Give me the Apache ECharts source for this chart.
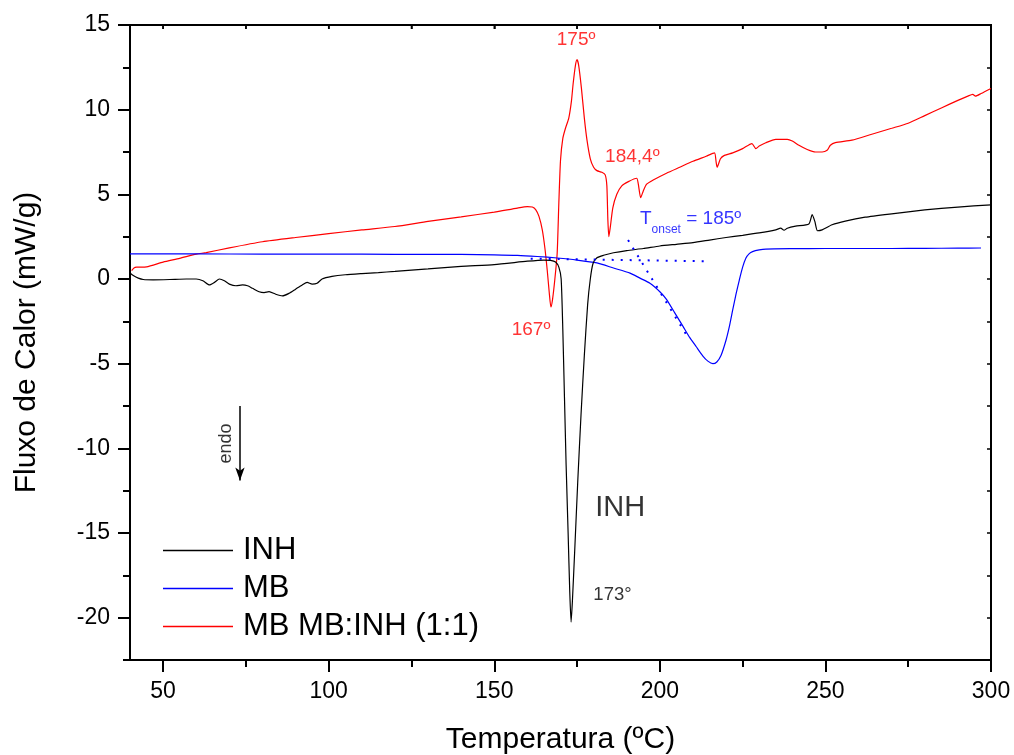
<!DOCTYPE html>
<html>
<head>
<meta charset="utf-8">
<script src="https://cdn.jsdelivr.net/npm/echarts@6/dist/echarts.min.js"></script>
<style>
html,body{margin:0;padding:0;background:#fff;}
#chart{width:1014px;height:755px;}
</style>
</head>
<body>
<div id="chart"></div>
<script>
// ---- data (Temperatura ºC, Fluxo de Calor mW/g) ----
const inhCurve = [[40,0.35],[41,0.2],[42.5,0.05],[44,-0.03],[47,-0.05],[52,-0.03],[57,0],[60,0],[62,-0.1],[64,-0.35],[65.5,-0.2],[67,0],[68.5,-0.1],[70,-0.3],[72,-0.4],[74,-0.35],[75.5,-0.4],[77,-0.55],[79,-0.75],[80.5,-0.8],[82,-0.75],[84,-0.9],[86,-1.0],[88,-0.85],[90,-0.6],[92,-0.35],[93.5,-0.2],[95,-0.3],[96.5,-0.25],[98,0],[101,0.15],[105,0.25],[110,0.32],[115,0.38],[120,0.45],[130,0.6],[140,0.75],[150,0.85],[160,1.05],[165,1.12],[167,1.1],[168.5,1.0],[169.5,0.7],[170.2,0],[170.7,-3],[171.2,-7],[171.7,-11],[172.3,-15],[172.8,-18.5],[173.2,-20.26],[173.6,-19],[174.3,-16],[175.2,-12],[176.2,-8],[177.2,-4.5],[178.2,-1.5],[179,0],[179.8,0.9],[181,1.25],[183,1.4],[186,1.55],[190,1.68],[195,1.8],[200,1.95],[205,2.05],[210,2.15],[215,2.3],[220,2.45],[225,2.58],[230,2.72],[235,2.9],[236.5,3.0],[237.5,2.88],[238.5,3.0],[241,3.12],[245,3.25],[246,3.8],[246.8,3.4],[247.6,2.85],[249,2.9],[252,3.2],[256,3.42],[262,3.65],[270,3.85],[280,4.08],[290,4.25],[300,4.38]];

const mbCurve = [[40,1.48],[60,1.48],[80,1.47],[100,1.47],[120,1.46],[140,1.45],[150,1.43],[157,1.4],[163,1.33],[169,1.24],[175,1.12],[181,0.95],[186,0.65],[191,0.35],[194,0.05],[197,-0.25],[200,-0.75],[202,-1.2],[204.5,-2.0],[207,-2.8],[209,-3.45],[211,-4.0],[213,-4.55],[214.5,-4.85],[216,-5.0],[217.2,-4.9],[218.5,-4.5],[220,-3.6],[221,-2.8],[222,-1.83],[223,-0.9],[224,-0.06],[225,0.7],[226,1.24],[227,1.5],[228,1.62],[230,1.72],[232,1.77],[240,1.79],[250,1.8],[260,1.8],[270,1.8],[280,1.81],[290,1.82],[297,1.83]];

const mixCurve = [[40.5,0.5],[41.2,0.65],[42,0.7],[45,0.72],[50,1.0],[55,1.22],[60,1.47],[63,1.56],[70,1.84],[80,2.2],[90,2.45],[100,2.68],[110,2.9],[120,3.1],[130,3.4],[140,3.67],[150,3.95],[157,4.19],[160,4.27],[161.5,4.25],[162.5,4.1],[163.5,3.7],[164.5,2.9],[165.3,1.8],[166,0.5],[166.6,-0.8],[167.1,-1.65],[167.6,-1.2],[168.3,0],[169,1.54],[169.5,4.5],[170,7.0],[170.7,8.3],[171.5,8.9],[172.5,9.5],[173.3,10.5],[173.8,11.5],[174.5,12.6],[175,12.95],[175.5,12.6],[176.3,11.3],[177.2,9.5],[178,8.2],[179,7.1],[180,6.6],[181,6.4],[182.5,6.3],[183.5,6.15],[184,5.5],[184.3,3.5],[184.6,2.5],[185,3.0],[185.8,4.2],[187,5.0],[188.5,5.5],[190.5,5.75],[193,5.95],[193.5,5.6],[194.2,4.8],[195,5.2],[196,5.6],[198,5.85],[202,6.25],[206,6.6],[210,6.95],[214,7.25],[216.5,7.45],[217,6.9],[217.3,6.6],[218.3,7.1],[219.5,7.3],[222,7.45],[225,7.7],[227.8,8.0],[229,7.7],[230,7.85],[232,8.05],[235,8.25],[238.5,8.25],[240,8.15],[242,7.9],[244.5,7.65],[247,7.5],[249,7.5],[250.5,7.6],[251.5,7.9],[253,8.05],[258,8.2],[264,8.55],[270,8.9],[275,9.2],[280,9.65],[285,10.1],[290,10.55],[293,10.8],[294.5,10.9],[295.3,10.8],[297,10.95],[300,11.25]];

// onset construction (dotted tangent lines)
const onsetBaseline = [[161,1.2],[214,1.05]];
const onsetTangent = [[190.4,2.3],[208.5,-3.45]];

// annotations: [x, y, text, colour, font size]
const annotations = [
  [174.7, 14.1, '175º', '#ff0000', 19],
  [191.7, 7.24, '184,4º', '#ff0000', 19],
  [161.1, -3.0, '167º', '#ff0000', 19],
  [188.0, -13.5, 'INH', '#000000', 29],
  [185.7, -18.66, '173°', '#000000', 18.5]
];
const onsetLabelPos = [194.0, 3.57];
const endoLabelPos = [69.0, -9.72];
const endoArrow = [[73.2, -7.5], [73.2, -11.9]];

const seriesNames = ['INH', 'MB', 'MB MB:INH (1:1)'];
const seriesColors = ['#000000', '#0000ff', '#ff0000'];

const xRange = [40, 300];
const yRange = [-22.5, 15];
const xMajor = [50, 100, 150, 200, 250, 300];
const xMinor = [75, 125, 175, 225, 275];
const yMajor = [-20, -15, -10, -5, 0, 5, 10, 15];
const yMinor = [-22.5, -17.5, -12.5, -7.5, -2.5, 2.5, 7.5, 12.5];

// ---- chart ----
const FONT = 'Arial, "Liberation Sans", sans-serif';
const chart = echarts.init(document.getElementById('chart'), null, {renderer: 'canvas'});
const allX = xMajor.concat(xMinor).sort((a,b)=>a-b).filter(v => v < xRange[1]);
const allY = yMajor.concat(yMinor).sort((a,b)=>a-b).filter(v => v > yRange[0] && v < yRange[1]);

function xAx(extra) {
  const o = Object.assign({type:'value', min:xRange[0], max:xRange[1], gridIndex:0, offset: 0,
    splitLine:{show:false}}, extra);
  o.axisLine = Object.assign({onZero: false}, o.axisLine || {});
  return o;
}
function yAx(extra) {
  const o = Object.assign({type:'value', min:yRange[0], max:yRange[1], gridIndex:0, offset: 0,
    splitLine:{show:false}}, extra);
  o.axisLine = Object.assign({onZero: false}, o.axisLine || {});
  return o;
}

const curves = [inhCurve, mbCurve, mixCurve];
const series = curves.map((c, i) => ({
  name: seriesNames[i], type: 'line', data: c, showSymbol: false, symbol: 'none',
  smooth: 0.2, lineStyle: {color: seriesColors[i], width: 1.2},
  itemStyle: {color: seriesColors[i]}, z: 5 - i, animation: false
}));

series.push({
  name: 'baseline', type: 'line', data: onsetBaseline, showSymbol: false, symbol: 'none',
  lineStyle: {color: '#0000ff', width: 2, type: [2, 7]}, animation: false, z: 6
});
series.push({
  name: 'tangent', type: 'line', data: onsetTangent, showSymbol: false, symbol: 'none',
  lineStyle: {color: '#0000ff', width: 2, type: [2, 7]}, animation: false, z: 6
});

series.push({
  name: 'labels', type: 'scatter', symbolSize: 0, animation: false, z: 10,
  data: annotations.map(a => ({
    value: [a[0], a[1]],
    label: {show: true, position: 'inside', formatter: a[2], color: a[3],
      fontSize: a[4], fontFamily: FONT}
  })).concat([
    {value: onsetLabelPos, label: {show: true, position: 'inside', align: 'left',
      formatter: '{a|T}{b|onset}{a| = 185º}', lineHeight: 34, fontFamily: FONT,
      rich: {
        a: {fontSize: 19, color: '#0000ff', fontFamily: FONT, verticalAlign: 'middle'},
        b: {fontSize: 12, color: '#0000ff', fontFamily: FONT, verticalAlign: 'bottom'}
      }}},
    {value: endoLabelPos, label: {show: true, position: 'inside', rotate: 90,
      formatter: 'endo', color: '#000', fontSize: 18, fontFamily: FONT}}
  ]),
  markLine: {
    silent: true, animation: false,
    symbol: ['none', 'arrow'], symbolSize: [7, 13],
    lineStyle: {color: '#000', width: 1.5, type: 'solid'},
    label: {show: false},
    data: [[{coord: endoArrow[0]}, {coord: endoArrow[1]}]]
  }
});

const option = {
  animation: false,
  backgroundColor: '#fff',
  textStyle: {fontFamily: FONT},
  grid: {left: 130, right: 23, top: 25, bottom: 95, containLabel: false,
    outerBoundsMode: 'none'},
  legend: {
    data: seriesNames, orient: 'vertical', left: 163, top: 535, padding: 0,
    icon: 'rect', itemWidth: 70, itemHeight: 1.3, itemGap: 7,
    textStyle: {fontSize: 31, color: '#000', fontFamily: FONT, padding: [0, 0, 0, 5]}
  },
  xAxis: [
    xAx({position: 'bottom', name: 'Temperatura (ºC)', nameLocation: 'middle', nameGap: 65,
      nameTextStyle: {fontSize: 30, color: '#000', fontFamily: FONT},
      axisLine: {show: true, lineStyle: {color: '#000', width: 2}},
      axisTick: {show: true, inside: false, length: 12, customValues: xMajor, lineStyle: {color: '#000', width: 2}},
      axisLabel: {show: true, customValues: xMajor, margin: 20, fontSize: 23, color: '#000', fontFamily: FONT}}),
    xAx({position: 'bottom',
      axisLine: {show: false},
      axisTick: {show: true, inside: false, length: 7, customValues: xMinor, lineStyle: {color: '#000', width: 2}},
      axisLabel: {show: false}}),
    xAx({position: 'top',
      axisLine: {show: true, lineStyle: {color: '#000', width: 2}},
      axisTick: {show: true, inside: true, length: 4, customValues: allX, lineStyle: {color: '#000', width: 1.5}},
      axisLabel: {show: false}})
  ],
  yAxis: [
    yAx({position: 'left', name: 'Fluxo de Calor (mW/g)', nameLocation: 'middle', nameGap: 88,
      nameTextStyle: {fontSize: 30, color: '#000', fontFamily: FONT},
      axisLine: {show: true, lineStyle: {color: '#000', width: 2}},
      axisTick: {show: true, inside: false, length: 12, customValues: yMajor, lineStyle: {color: '#000', width: 2}},
      axisLabel: {show: true, customValues: yMajor, margin: 20, fontSize: 23, color: '#000', fontFamily: FONT}}),
    yAx({position: 'left',
      axisLine: {show: false},
      axisTick: {show: true, inside: false, length: 7, customValues: yMinor, lineStyle: {color: '#000', width: 2}},
      axisLabel: {show: false}}),
    yAx({position: 'right',
      axisLine: {show: true, lineStyle: {color: '#000', width: 2}},
      axisTick: {show: true, inside: true, length: 4, customValues: allY, lineStyle: {color: '#000', width: 1.5}},
      axisLabel: {show: false}})
  ],
  series: series
};
chart.setOption(option);

// top border of the plot frame, placed through the chart's own scales
const pL = chart.convertToPixel({xAxisIndex: 0, yAxisIndex: 0}, [xRange[0], yRange[1]]);
const pR = chart.convertToPixel({xAxisIndex: 0, yAxisIndex: 0}, [xRange[1], yRange[1]]);
const topTicks = allX.map(v => {
  const p = chart.convertToPixel({xAxisIndex: 0, yAxisIndex: 0}, [v, yRange[1]]);
  return {type: 'line', z: 100, silent: true,
    shape: {x1: p[0], y1: p[1], x2: p[0], y2: p[1] + 4},
    style: {stroke: '#000', lineWidth: 1.5}};
});
chart.setOption({
  graphic: [{type: 'line', z: 100, silent: true,
    shape: {x1: pL[0] - 1, y1: pL[1], x2: pR[0] + 1, y2: pR[1]},
    style: {stroke: '#000', lineWidth: 2}}].concat(topTicks)
});
</script>
</body>
</html>
